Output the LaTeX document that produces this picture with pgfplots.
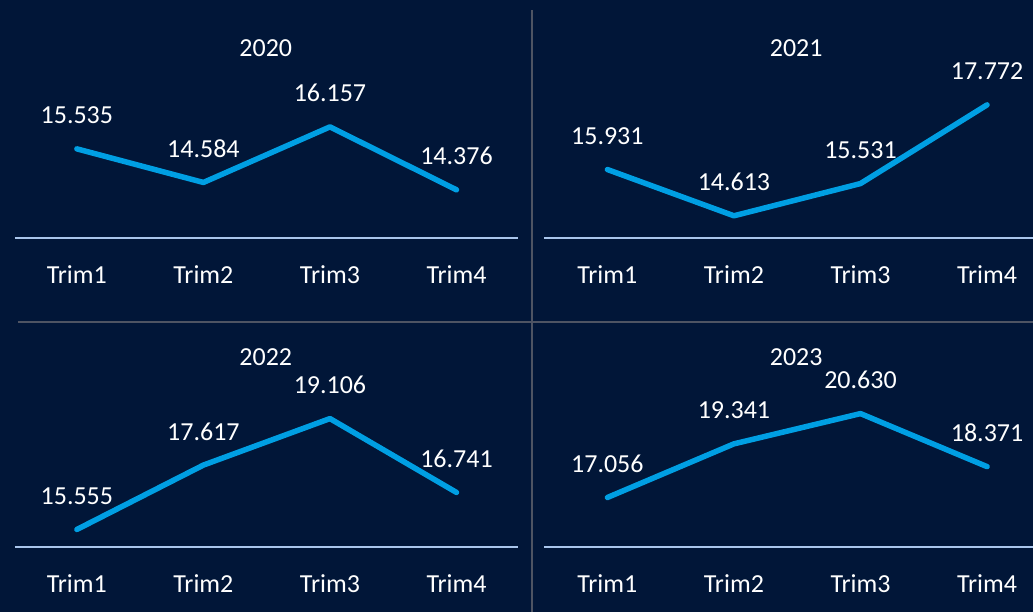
\documentclass[border=0pt]{standalone}
\usepackage{pgfplots}
\pgfplotsset{compat=1.18}
\usepackage{fontspec}
\setmainfont{Carlito}
\definecolor{bgcol}{HTML}{011638}
\definecolor{linecol}{HTML}{009FE3}
\definecolor{axcol}{HTML}{A9C5EB}
\definecolor{sepcol}{HTML}{4E5463}
\newcommand{\bigf}{\fontsize{26}{30}\selectfont}
\pgfplotsset{
  panel/.style={
    scale only axis, clip=false,
    anchor=south west,
    axis x line=bottom, hide y axis,
    axis line style={-, draw=axcol, line width=2pt},
    major tick length=0pt,
    xtick={0,1,2,3},
    xticklabels={Trim1,Trim2,Trim3,Trim4},
    xticklabel style={anchor=base, yshift=-45.5pt, text=white, font=\bigf},
    nodes near coords,
    point meta=explicit symbolic,
    nodes near coords style={anchor=base, yshift=25pt, text=white, font=\bigf},
  },
  leftp/.style={panel, width=503pt, xmin=-0.489, xmax=3.482},
  rightp/.style={panel, width=489pt, xmin=-0.497, xmax=3.363},
  ser/.style={draw=linecol, line width=5.5pt, line join=round, line cap=round, mark=none},
}
\begin{document}
\begin{tikzpicture}[x=1pt,y=1pt]
\fill[bgcol] (0,0) rectangle (1034,613);
\draw[sepcol, line width=2pt] (533,603) -- (533,0);
\draw[sepcol, line width=2pt] (18,291) -- (1034,291);

\begin{axis}[leftp, at={(15pt,375pt)}, height=228pt, ymin=13.019, ymax=19.465]
\addplot[ser] coordinates {(0,15.535) [15.535] (1,14.584) [14.584] (2,16.157) [16.157] (3,14.376) [14.376]};
\end{axis}

\begin{axis}[rightp, at={(545pt,375pt)}, height=228pt, ymin=13.987, ymax=20.475]
\addplot[ser] coordinates {(0,15.931) [15.931] (1,14.613) [14.613] (2,15.531) [15.531] (3,17.772) [17.772]};
\end{axis}

\begin{axis}[leftp, at={(15pt,65pt)}, height=218pt, ymin=14.979, ymax=21.953]
\addplot[ser] coordinates {(0,15.555) [15.555] (1,17.617) [17.617] (2,19.106) [19.106] (3,16.741) [16.741]};
\end{axis}

\begin{axis}[rightp, at={(545pt,65pt)}, height=218pt, ymin=14.928, ymax=24.204]
\addplot[ser] coordinates {(0,17.056) [17.056] (1,19.341) [19.341] (2,20.630) [20.630] (3,18.371) [18.371]};
\end{axis}

\node[text=white, font=\bigf] at (266,565) {2020};
\node[text=white, font=\bigf] at (797,565) {2021};
\node[text=white, font=\bigf] at (266,255) {2022};
\node[text=white, font=\bigf] at (797,255) {2023};
\end{tikzpicture}
\end{document}
